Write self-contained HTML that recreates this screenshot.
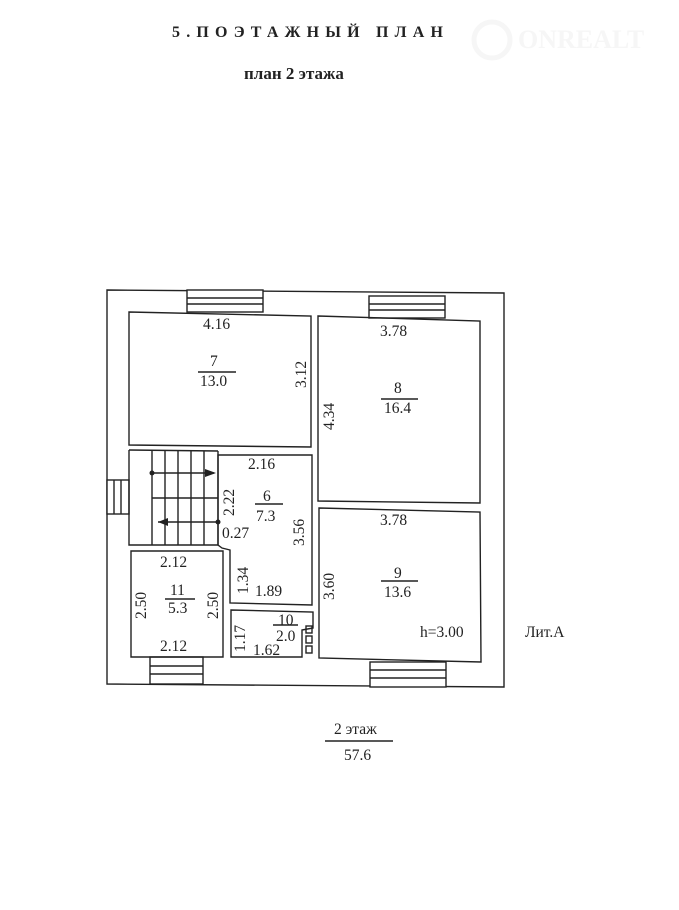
<!DOCTYPE html>
<html><head><meta charset="utf-8"><style>
body{margin:0;background:#fff;}
svg{display:block}
text{font-family:"Liberation Serif",serif;fill:#222;}
</style></head><body>
<svg width="679" height="910" viewBox="0 0 679 910" xmlns="http://www.w3.org/2000/svg">
<rect width="679" height="910" fill="#fff"/>
<text x="172" y="37" font-size="16" font-weight="bold" letter-spacing="6.2">5.ПОЭТАЖНЫЙ ПЛАН</text>
<text x="244" y="79" font-size="17" font-weight="bold">план 2 этажа</text>
<text x="518" y="48" font-size="26" font-weight="bold" font-family="Liberation Sans" style="fill:#f6f6f6">ONREALT</text>
<circle cx="492" cy="40" r="18" fill="none" stroke="#f6f6f6" stroke-width="5"/>
<g fill="none" stroke="#222" stroke-width="1.4">
<path d="M107 290 L504 293 L504 687 L107 684 Z"/>
<rect x="187" y="290" width="76" height="22" fill="#fff"/>
<line x1="187" y1="298" x2="263" y2="298"/><line x1="187" y1="304" x2="263" y2="304"/>
<rect x="369" y="296" width="76" height="22" fill="#fff"/>
<line x1="369" y1="304" x2="445" y2="304"/><line x1="369" y1="310" x2="445" y2="310"/>
<rect x="150" y="657" width="53" height="27" fill="#fff"/>
<line x1="150" y1="666" x2="203" y2="666"/><line x1="150" y1="674" x2="203" y2="674"/>
<rect x="370" y="662" width="76" height="25" fill="#fff"/>
<line x1="370" y1="670" x2="446" y2="670"/><line x1="370" y1="678" x2="446" y2="678"/>
<rect x="107" y="480" width="22" height="34" fill="#fff"/>
<line x1="114" y1="480" x2="114" y2="514"/><line x1="121" y1="480" x2="121" y2="514"/>
<path d="M129 312 L311 316 L311 447 L129 445 Z"/>
<path d="M318 316 L480 321 L480 503 L318 501 Z"/>
<path d="M319 508 L480 512 L481 662 L319 658 Z"/>
<path d="M129 450 L129 545 L218 545"/>
<line x1="129" y1="450" x2="218" y2="451"/>
<path d="M218 455 L312 455 L312 605 L230 603 L230 550 L222 548 L218 545 Z"/>
<path d="M131 551 L223 551 L223 657 L131 657 Z"/>
<path d="M231 610 L313 612 L313 628 L302 630 L302 657 L231 657 Z"/>
<line x1="152" y1="451" x2="152" y2="545"/><line x1="165" y1="451" x2="165" y2="545"/>
<line x1="178" y1="451" x2="178" y2="545"/><line x1="191" y1="451" x2="191" y2="545"/>
<line x1="204" y1="451" x2="204" y2="545"/><line x1="218" y1="451" x2="218" y2="545"/>
<line x1="152" y1="473" x2="214" y2="473"/><line x1="152" y1="498" x2="218" y2="498"/>
<line x1="158" y1="522" x2="218" y2="522"/>
<rect x="306" y="626" width="6" height="7"/><rect x="306" y="636" width="6" height="7"/><rect x="306" y="646" width="6" height="7"/>
<line x1="198" y1="372" x2="236" y2="372"/><line x1="381" y1="399" x2="418" y2="399"/>
<line x1="255" y1="504" x2="283" y2="504"/><line x1="381" y1="581" x2="418" y2="581"/>
<line x1="165" y1="599" x2="195" y2="599"/><line x1="273" y1="625" x2="298" y2="625"/>
<line x1="325" y1="741" x2="393" y2="741"/>
</g>
<polygon points="205,469 216,473 205,477" fill="#222"/>
<polygon points="158,522 168,518 168,526" fill="#222"/>
<circle cx="152" cy="473" r="2.5" fill="#222"/><circle cx="218" cy="522" r="2.5" fill="#222"/>
<g font-size="15.5">
<text x="203" y="329">4.16</text>
<text x="210" y="366">7</text><text x="200" y="386">13.0</text>
<text x="380" y="336">3.78</text>
<text x="394" y="393">8</text><text x="384" y="413">16.4</text>
<text x="380" y="525">3.78</text>
<text x="394" y="578">9</text><text x="384" y="597">13.6</text>
<text x="248" y="469">2.16</text>
<text x="263" y="501">6</text><text x="256" y="521">7.3</text>
<text x="222" y="538">0.27</text>
<text x="160" y="567">2.12</text>
<text x="170" y="595">11</text><text x="168" y="613">5.3</text>
<text x="160" y="651">2.12</text>
<text x="255" y="596">1.89</text>
<text x="278" y="625">10</text><text x="276" y="641">2.0</text>
<text x="253" y="655">1.62</text>
<text x="420" y="637">h=3.00</text>
<text x="525" y="637">Лит.А</text>
<text x="334" y="734">2 этаж</text>
<text x="344" y="760">57.6</text>
</g>
<g font-size="15.5">
<text transform="translate(306,388) rotate(-90)">3.12</text>
<text transform="translate(334,430) rotate(-90)">4.34</text>
<text transform="translate(234,516) rotate(-90)">2.22</text>
<text transform="translate(304,546) rotate(-90)">3.56</text>
<text transform="translate(248,594) rotate(-90)">1.34</text>
<text transform="translate(334,600) rotate(-90)">3.60</text>
<text transform="translate(146,619) rotate(-90)">2.50</text>
<text transform="translate(218,619) rotate(-90)">2.50</text>
<text transform="translate(245,652) rotate(-90)">1.17</text>
</g>
</svg>
</body></html>
